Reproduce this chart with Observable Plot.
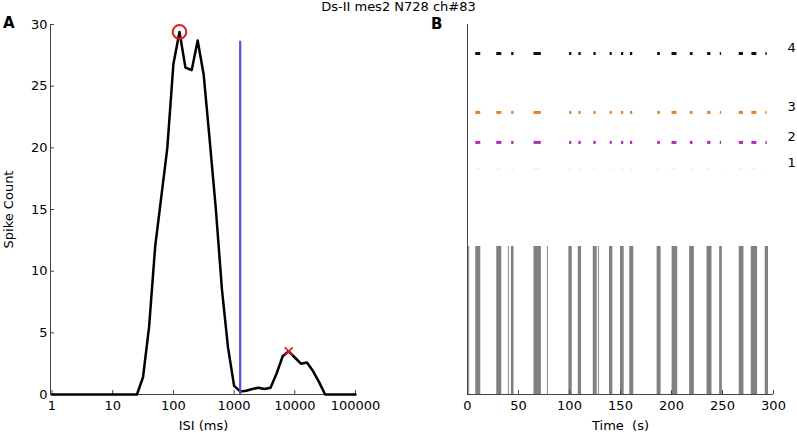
<!DOCTYPE html>
<html>
<head>
<meta charset="utf-8">
<script src="https://cdn.jsdelivr.net/npm/d3@7"></script>
<script src="https://cdn.jsdelivr.net/npm/@observablehq/plot@0.6"></script>
<style>
  body { margin: 0; background: #fff; }
  #wrap { position: relative; width: 797px; height: 433px; font-family: "DejaVu Sans", sans-serif; }
  #a { position: absolute; left: 0; top: 0; width: 400px; }
  #b { position: absolute; left: 400px; top: 0; width: 397px; }
  #a svg text, #b svg text { font-family: "DejaVu Sans", sans-serif !important; font-size: 13px !important; }
  .t { position: absolute; color: #000; white-space: pre; }
</style>
</head>
<body>
<div id="wrap">
  <div id="a"></div>
  <div id="b"></div>
  <div class="t" style="left:0;width:797px;text-align:center;top:2.3px;font-size:13px;line-height:10px;">Ds-II mes2 N728 ch#83</div>
  <div class="t" style="left:3px;top:17.5px;font-size:15px;line-height:11px;font-weight:bold;">A</div>
  <div class="t" style="left:431px;top:18.5px;font-size:15px;line-height:11px;font-weight:bold;">B</div>
</div>
<script>
// ---------- Panel A: ISI histogram (log-binned) ----------
const isiMs = [1, 1.26, 1.58, 2, 2.51, 3.16, 3.98, 5.01, 6.31, 7.94,
  10, 12.6, 15.8, 20, 25.1, 31.6, 39.8, 50.1, 63.1, 79.4,
  100, 126, 158, 200, 251, 316, 398, 501, 631, 794,
  1000, 1259, 1585, 1995, 2512, 3162, 3981, 5012, 6310, 7943,
  10000, 12589, 15849, 19953, 25119, 31623, 39811, 50119, 63096, 79433, 100000];
const spikeCount = [0, 0, 0, 0, 0, 0, 0, 0, 0, 0,
  0, 0, 0, 0, 0, 1.4, 5.5, 12, 16, 20,
  26.8, 29.4, 26.5, 26.3, 28.7, 25.9, 20.5, 15, 8.5, 3.8,
  0.7, 0.25, 0.3, 0.45, 0.55, 0.45, 0.55, 1.7, 3.1, 3.5,
  3.0, 2.5, 2.6, 1.9, 1.0, 0, 0, 0, 0, 0, 0];
const isiTicks = [1, 10, 100, 1000, 10000, 100000];
const countTicks = [0, 5, 10, 15, 20, 25, 30];
const isiDomain = [0.945, 103800];
const thresholdMs = 1259;       // blue vertical line
const thresholdTop = 28.65;
const mainPeak = {isi: 126, count: 29.4};     // red circle
const secondPeak = {isi: 7943, count: 3.5};   // red cross

// ---------- Panel B: raster ----------
const burstStart = [8.1, 28.7, 43.0, 65.2, 99.4, 108.6, 123.3, 139.2, 150.0, 159.1, 185.9, 200.6, 217.8, 234.8, 247.2, 266.4, 278.2, 291.9];
const burstEnd   = [13.0, 33.6, 45.6, 72.4, 102.7, 111.8, 127.2, 142.5, 153.6, 163.0, 189.8, 206.1, 222.4, 239.7, 249.8, 271.0, 284.4, 295.1];
const singleSpikes = [1.2, 40.1, 78.3, 128.5];
const dashStart = [8.1, 28.7, 43.3, 65.2, 100.1, 109.2, 123.9, 139.9, 151.0, 159.8, 186.5, 200.5, 218.5, 235.4, 247.8, 266.4, 278.8, 292.5];
const dashEnd   = [13.0, 33.6, 45.6, 72.4, 102.3, 111.5, 126.2, 141.9, 153.2, 162.0, 189.1, 205.4, 221.1, 238.7, 249.1, 270.6, 283.7, 293.8];
const rowNames = ["1", "2", "3", "4"];
const rowLevels = [18.27, 20.44, 22.87, 27.65];
const rowColors = ["#e4e4e4", "#b02cb3", "#e2852a", "#111111"];
const barTop = 12;
const timeTicks = [0, 50, 100, 150, 200, 250, 300];

const axisColor = "#444";
const font = "'DejaVu Sans', sans-serif";

const isiData = isiMs.map((isi, i) => ({isi, count: spikeCount[i]}));

const plotA = Plot.plot({
  width: 400, height: 433,
  marginLeft: 50, marginRight: 44, marginTop: 24, marginBottom: 39,
  style: {fontFamily: font, fontSize: "13px", color: "#000", background: "transparent"},
  x: {type: "log", domain: isiDomain},
  y: {domain: [0, 30]},
  marks: [
    Plot.axisX({ticks: isiTicks, tickFormat: d => String(d), tickSize: -4, tickPadding: 10, stroke: axisColor, fontSize: 13,
      label: "ISI (ms)", labelAnchor: "center", labelOffset: 35, labelArrow: "none"}),
    Plot.axisY({ticks: countTicks, tickSize: -4, tickPadding: 7, stroke: axisColor, fontSize: 13,
      label: "Spike Count", labelAnchor: "center", labelOffset: 47, labelArrow: "none"}),
    Plot.ruleY([0], {stroke: axisColor}),
    Plot.ruleX([isiDomain[0]], {stroke: axisColor}),
    Plot.line(isiData, {x: "isi", y: "count", stroke: "#000", strokeWidth: 2.5, strokeLinejoin: "round"}),
    Plot.ruleX([thresholdMs], {y1: 0, y2: thresholdTop, stroke: "#4f4fe2", strokeWidth: 2.2}),
    Plot.dot([mainPeak], {x: "isi", y: "count", r: 6.8, stroke: "#e3191c", strokeWidth: 2, fill: "none"}),
    Plot.dot([secondPeak], {x: "isi", y: "count", symbol: "times", r: 3.7, stroke: "#e3191c", strokeWidth: 1.6})
  ]
});
document.getElementById("a").append(plotA);

const bursts = burstStart.map((s, i) => ({start: s, end: burstEnd[i]}));
const dashes = [];
rowLevels.forEach((lvl, r) => {
  dashStart.forEach((s, i) => dashes.push({start: s, end: dashEnd[i], level: lvl, color: rowColors[r], row: r}));
});

const plotB = Plot.plot({
  width: 397, height: 433,
  marginLeft: 67, marginRight: 24, marginTop: 24, marginBottom: 39,
  style: {fontFamily: font, fontSize: "13px", color: "#000", background: "transparent"},
  x: {domain: [0, 300]},
  y: {domain: [0, 30]},
  marks: [
    Plot.rect(bursts, {x1: "start", x2: "end", y1: 0, y2: barTop, fill: "#808080"}),
    Plot.ruleX(singleSpikes, {y1: 0, y2: barTop, stroke: "#8a8a8a", strokeWidth: 1}),
    Plot.ruleY(dashes.filter(d => d.row === 0), {y: "level", x1: "start", x2: "end", stroke: "color", strokeWidth: 1}),
    Plot.ruleY(dashes.filter(d => d.row > 0), {y: "level", x1: "start", x2: "end", stroke: "color", strokeWidth: 3}),
    Plot.axisX({ticks: timeTicks, tickSize: -4, tickPadding: 10, stroke: axisColor, fontSize: 13,
      label: "Time\u00a0 (s)", labelAnchor: "center", labelOffset: 35, labelArrow: "none"}),
    Plot.axisY({anchor: "right", ticks: rowLevels, tickFormat: d => rowNames[rowLevels.indexOf(d)],
      tickSize: 0, tickPadding: 14, dy: -6, fontSize: 13, label: null}),
    Plot.ruleY([0], {stroke: axisColor}),
    Plot.ruleX([0], {stroke: axisColor})
  ]
});
document.getElementById("b").append(plotB);
</script>
</body>
</html>
